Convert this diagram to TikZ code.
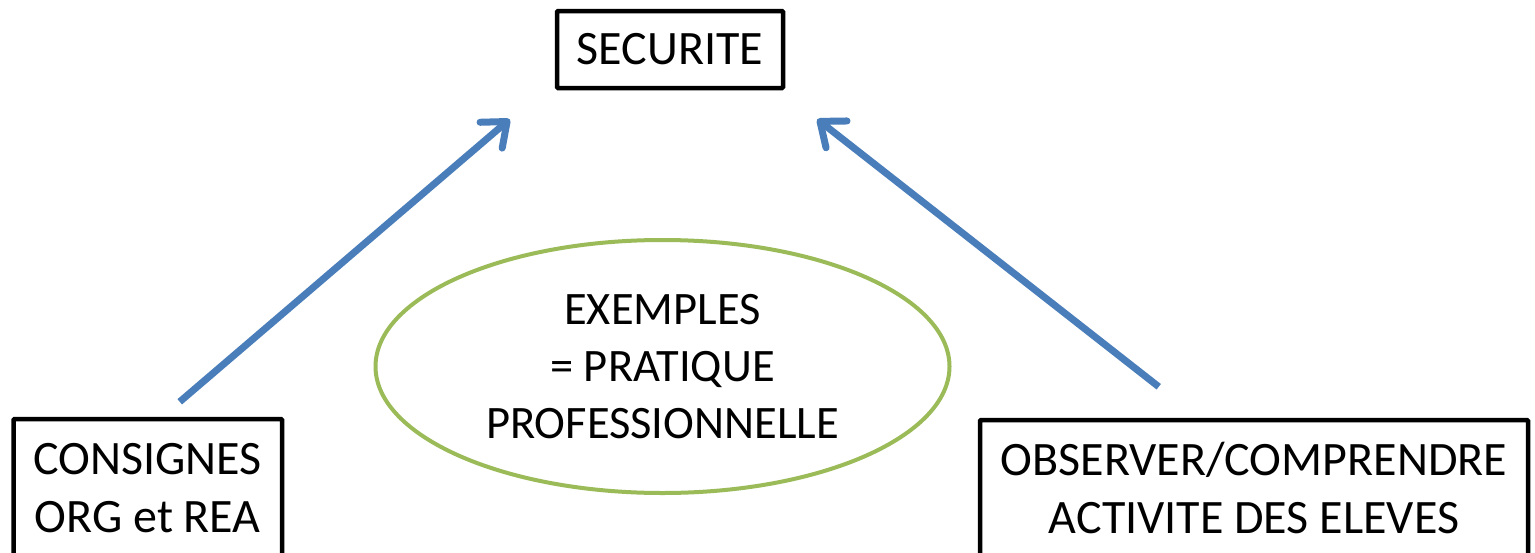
\documentclass[tikz,border=0pt]{standalone}
\usepackage{fontspec}
\setmainfont{Carlito}
\usetikzlibrary{shapes.geometric,arrows.meta,calc}
\definecolor{arrowblue}{HTML}{4A7EBB}
\definecolor{ovalgreen}{HTML}{9BBB59}
\begin{document}
\begin{tikzpicture}[x=1pt,y=-1pt,
  boxnode/.style={draw=black, line width=4.5pt, rectangle, rounded corners=1pt,
    align=center, inner sep=0pt, font=\fontsize{48}{58}\selectfont},
  ovalnode/.style={draw=ovalgreen, line width=4pt, ellipse, minimum width=574pt,
    minimum height=253pt, inner sep=0pt, align=center, font=\fontsize{46.5}{57}\selectfont},
  link/.style={draw=arrowblue, line width=7pt,
    -{Straight Barb[length=21pt,width=34pt,round]}}]
\useasboundingbox (0,0) rectangle (1535,552);
\fill[white] (0,0) rectangle (1535,552);
\clip (0,0) rectangle (1535,552);
\node[boxnode, minimum width=226pt, minimum height=77pt] (sec) at (670,49.5) {SECURITE};
\node[boxnode, minimum width=268.5pt, minimum height=138pt] (cons) at (147.75,488) {CONSIGNES\\ORG et REA};
\node[boxnode, minimum width=548pt, minimum height=136pt] (obs) at (1254,488) {OBSERVER/COMPRENDRE\\ACTIVITE DES ELEVES};
\node[ovalnode] (ex) at (662.5,366.5) {EXEMPLES\\= PRATIQUE\\PROFESSIONNELLE};
\coordinate (ls) at ($(cons.north)+(32,-15)$);
\coordinate (lt) at ($(sec.south west)+(-45,29)$);
\coordinate (rs) at ($(obs.north west)+(181,-31)$);
\coordinate (rt) at ($(sec.south east)+(32,29)$);
\draw[link] (ls) -- (lt);
\draw[link] (rs) -- (rt);
\end{tikzpicture}
\end{document}
